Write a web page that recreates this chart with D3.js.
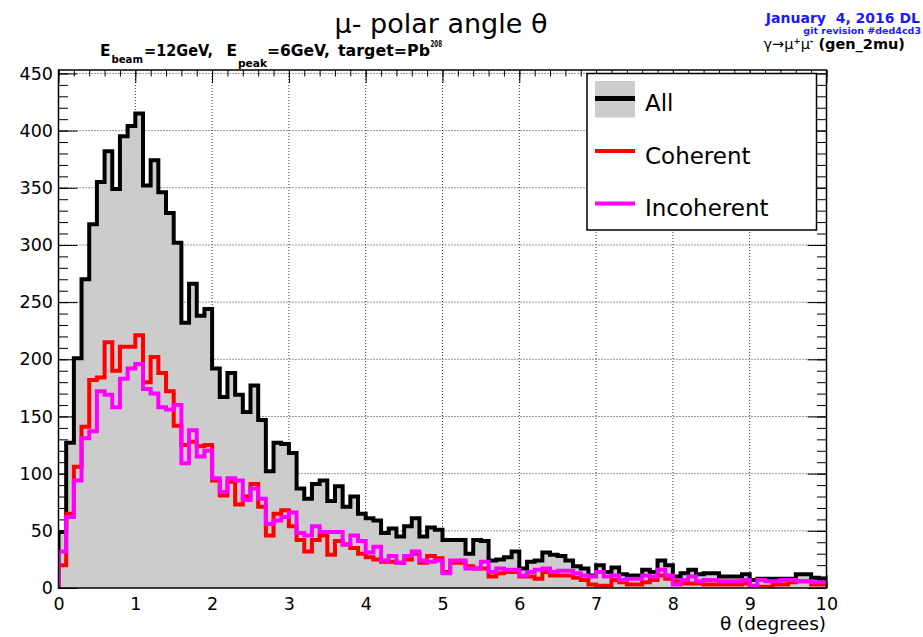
<!DOCTYPE html>
<html>
<head>
<meta charset="utf-8">
<script src="https://cdn.jsdelivr.net/npm/d3@7"></script>
<style>
  body { margin: 0; background: #fff; }
  text { font-family: "DejaVu Sans", Verdana, sans-serif; }
</style>
</head>
<body>
<svg id="chart" width="923" height="637"></svg>
<script>
// bin width 0.1 deg, 100 bins from 0 to 10
let allCounts = [49,127,201,270,318,355,382,349,395,404,
  415,352,374,346,328,302,232,266,238,244,
  192,167,188,169,154,177,147,102,127,126,
  118,87,78,91,94,76,89,71,80,65,
  61,59,48,52,45,54,61,45,53,51,
  42,42,42,30,42,41,24,25,27,32,
  17,23,24,31,29,28,24,19,17,11,
  20,14,18,12,11,11,16,14,24,20,
  10,13,16,12,13,13,10,10,10,12,
  7,8,8,8,8,8,12,12,9,8];
let coherent = [20,65,106,141,182,184,215,190,211,211,
  221,180,202,188,172,142,125,128,124,125,
  94,81,93,73,80,91,71,46,65,68,
  54,42,32,42,46,29,41,38,35,30,
  27,25,23,23,22,25,30,22,28,26,
  14,22,22,19,17,17,10,13,14,14,
  10,10,8,14,11,11,11,9,7,3,
  2,2,7,5,3,3,5,7,11,8,
  6,4,4,4,3,3,3,3,3,4,
  0,1,1,3,3,5,6,6,3,3];
let incoherent = [32,62,94,131,137,172,169,158,183,192,
  196,174,170,158,156,160,109,138,115,120,
  96,84,96,94,77,87,78,56,59,62,
  66,48,46,54,49,49,49,38,46,41,
  31,36,24,28,22,28,32,24,23,24,
  13,24,24,17,17,23,14,17,16,16,
  11,14,16,17,14,15,15,13,11,10,
  14,10,11,7,8,8,11,10,16,11,
  3,7,10,6,7,7,6,6,6,7,
  2,7,6,6,7,7,6,6,5,5];
let xTicks = [0,1,2,3,4,5,6,7,8,9,10];
let yTicks = [0,50,100,150,200,250,300,350,400,450];
let legendNames = ['All','Coherent','Incoherent'];
let legendColors = ['#000000','#ff0000','#ff00ff'];

let margin = {top: 70, left: 58.5, right: 96.5, bottom: 49};
let svgWidth = 923, svgHeight = 637;
let width = svgWidth - margin.left - margin.right;
let height = svgHeight - margin.top - margin.bottom;
let binW = 0.1;

let xScale = d3.scaleLinear().domain([0,10]).range([0,width]);
let yScale = d3.scaleLinear().domain([0,453]).range([height,0]);

let svg = d3.select('#chart');
svg.append('rect').attr('width',svgWidth).attr('height',svgHeight).attr('fill','#fff');
let g = svg.append('g').attr('transform',`translate(${margin.left},${margin.top})`);

// grid
g.append('g').selectAll('line').data(xTicks.slice(1,-1)).enter().append('line')
  .attr('x1',d=>xScale(d)).attr('x2',d=>xScale(d)).attr('y1',0).attr('y2',height)
  .attr('stroke','#333').attr('stroke-dasharray','1,2');
g.append('g').selectAll('line').data(yTicks.slice(1)).enter().append('line')
  .attr('y1',d=>yScale(d)).attr('y2',d=>yScale(d)).attr('x1',0).attr('x2',width)
  .attr('stroke','#333').attr('stroke-dasharray','1,2');

// ticks (inside, on all four sides)
let xMinor = d3.range(0,10.001,0.2);
let yMinor = d3.range(0,451,10);
function tickAxis(axis, tr) {
  let a = g.append('g').attr('transform',tr).call(axis);
  a.select('.domain').remove();
  a.selectAll('line').attr('stroke','#000');
  return a;
}
tickAxis(d3.axisBottom(xScale).tickValues(xMinor).tickSize(-6.5).tickFormat(''),`translate(0,${height})`);
tickAxis(d3.axisTop(xScale).tickValues(xMinor).tickSize(-6.5).tickFormat(''),'translate(0,0)');
tickAxis(d3.axisLeft(yScale).tickValues(yMinor).tickSize(-9.5).tickFormat(''),'translate(0,0)');
tickAxis(d3.axisRight(yScale).tickValues(yMinor).tickSize(-9.5).tickFormat(''),`translate(${width},0)`);
tickAxis(d3.axisTop(xScale).tickValues(xTicks).tickSize(-13).tickFormat(''),'translate(0,0)');
tickAxis(d3.axisRight(yScale).tickValues(yTicks).tickSize(-19).tickFormat(''),`translate(${width},0)`);
let xAxis = tickAxis(d3.axisBottom(xScale).tickValues(xTicks).tickSize(-13).tickPadding(9.5).tickFormat(d3.format('d')),`translate(0,${height})`);
let yAxis = tickAxis(d3.axisLeft(yScale).tickValues(yTicks).tickSize(-19).tickPadding(5.5).tickFormat(d3.format('d')),'translate(0,0)');
xAxis.selectAll('text').attr('font-size','17.5px').attr('fill','#000').attr('font-family','DejaVu Sans, sans-serif');
yAxis.selectAll('text').attr('font-size','17.5px').attr('fill','#000').attr('font-family','DejaVu Sans, sans-serif');

// histograms
g.append('clipPath').attr('id','clip').append('rect').attr('width',width).attr('height',height);
let plot = g.append('g').attr('clip-path','url(#clip)');

function steps(vals) {
  let pts = vals.map((v,i)=>[i*binW, v]);
  pts.push([vals.length*binW, vals[vals.length-1]]);
  return pts;
}
let area = d3.area().curve(d3.curveStepAfter)
  .x(d=>xScale(d[0])).y0(yScale(0)).y1(d=>yScale(d[1]));
let line = d3.line().curve(d3.curveStepAfter)
  .x(d=>xScale(d[0])).y(d=>yScale(d[1]));

plot.append('path').datum(steps(allCounts)).attr('d',area).attr('fill','#cccccc');
[allCounts, coherent, incoherent].forEach((s,i)=>{
  let pts = [[0,0]].concat(steps(s));
  plot.append('path').datum(pts).attr('d',line)
    .attr('fill','none').attr('stroke',legendColors[i]).attr('stroke-width',4);
});

// frame
g.append('rect').attr('width',width).attr('height',height)
  .attr('fill','none').attr('stroke','#000').attr('stroke-width',1.5);

// legend
let lg = svg.append('g').attr('transform','translate(587,73.5)');
lg.append('rect').attr('width',229.5).attr('height',156.5)
  .attr('fill','#fff').attr('stroke','#000').attr('stroke-width',1.5);
legendNames.forEach((n,i)=>{
  let cy = 25 + i*52.5;
  if (i===0) {
    lg.append('rect').attr('x',8).attr('y',7.5).attr('width',40).attr('height',36.5).attr('fill','#cccccc');
  }
  lg.append('line').attr('x1',8).attr('x2',48).attr('y1',cy).attr('y2',cy)
    .attr('stroke',legendColors[i]).attr('stroke-width',i===0?5:4);
  lg.append('text').attr('x',58).attr('y',cy+12.5).attr('font-size','23px').text(n);
});

// titles
svg.append('text').attr('x',441).attr('y',33).attr('text-anchor','middle')
  .attr('font-size','27px').text('\u03bc- polar angle \u03b8');

let sub = svg.append('g').attr('font-weight','bold').attr('font-size','15px');
function piece(x, y, w, size, t) {
  sub.append('text').attr('x',x).attr('y',y).attr('font-size',size+'px')
    .attr('textLength',w).attr('lengthAdjust','spacingAndGlyphs').text(t);
}
piece(100, 56, 10.5, 15, 'E');
piece(111.5, 62.5, 31.5, 10.5, 'beam');
piece(144, 56, 69, 15, '=12GeV,');
piece(226.5, 56, 10.5, 15, 'E');
piece(238, 67, 29, 10.5, 'peak');
piece(267, 56, 63, 15, '=6GeV,');
piece(338, 56, 92, 15, 'target=Pb');
piece(430.5, 46.5, 11.5, 8.5, '208');

svg.append('text').attr('x',920).attr('y',23).attr('text-anchor','end')
  .attr('font-size','14px').attr('font-weight','bold').attr('fill','#1a1aff')
  .style('white-space','pre').text('January  4, 2016 DL');
svg.append('text').attr('x',921).attr('y',34).attr('text-anchor','end')
  .attr('font-size','9.5px').attr('font-weight','bold').attr('fill','#1a1aff')
  .text('git revision #ded4cd3');
let gen = svg.append('text').attr('x',905).attr('y',49).attr('text-anchor','end').attr('font-size','14.5px');
gen.append('tspan').text('\u03b3\u2192\u03bc');
gen.append('tspan').attr('dy',-5).attr('font-size','8.5px').attr('font-weight','bold').text('+');
gen.append('tspan').attr('dy',5).text('\u03bc');
gen.append('tspan').attr('dy',-5).attr('font-size','8.5px').attr('font-weight','bold').text('-');
gen.append('tspan').attr('dy',5).attr('font-weight','bold').style('white-space','pre').text(' (gen_2mu)');

svg.append('text').attr('x',826).attr('y',630).attr('text-anchor','end')
  .attr('font-size','18.5px').text('\u03b8 (degrees)');
</script>
</body>
</html>
